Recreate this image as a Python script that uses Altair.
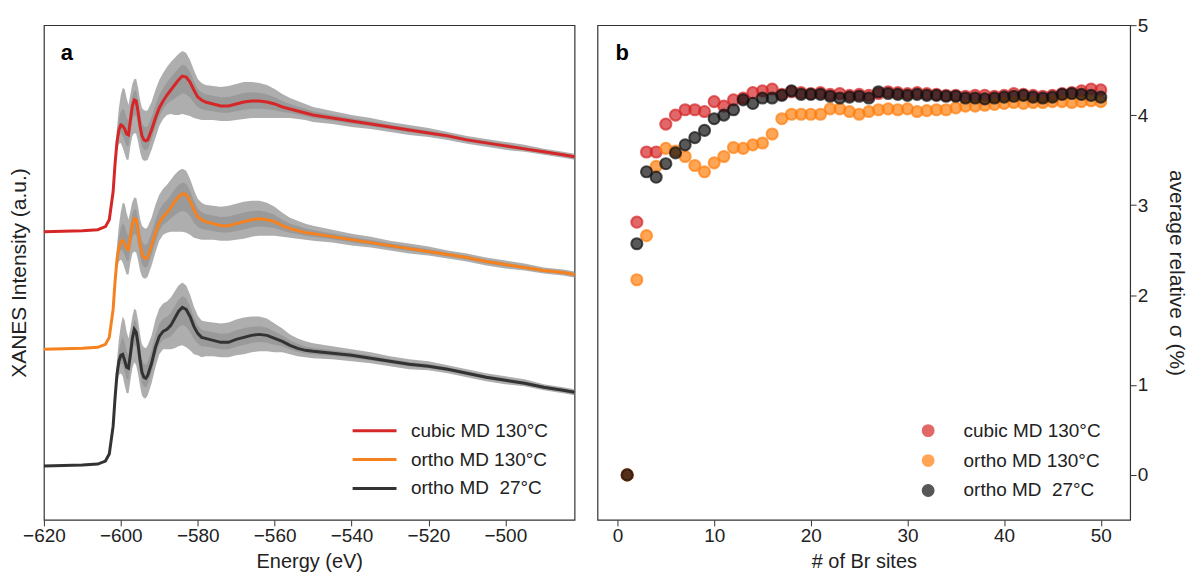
import altair as alt
import pandas as pd

# ---------------- panel a : XANES spectra ----------------
energy = [-620, -610, -606, -604, -603, -602, -601.5, -601, -600.5, -600,
          -599.5, -599, -598.5, -598, -597.5, -597, -596.5, -596, -595.5, -595,
          -594.5, -594, -593.5, -593, -592, -591, -590, -589, -588, -587,
          -586, -585, -584, -583, -582, -581, -580, -579, -578,
          -576, -574, -572, -570, -568, -566, -564, -562, -560, -558, -556,
          -554, -552, -550, -545, -540, -535, -530, -525, -520, -515, -510, -505, -500, -495, -490, -485, -482]

# mean spectra, intensity above pre-edge (a.u. x 100)
cubic_130 = [0, 1, 2, 5, 12, 40, 68, 90, 102, 107,
             106, 103, 98, 97, 112, 126, 132, 131, 120, 106,
             96, 92, 91, 92, 102, 114, 124, 131, 137, 142,
             147, 152, 156, 155, 150, 142, 135, 132, 130,
             128, 126, 126, 128, 130, 131, 131, 130, 128, 125, 123,
             121, 119, 117, 114, 111, 108, 105, 102, 99, 96, 92, 89, 86, 83, 80, 77, 75]
ortho_130 = [0, 1, 2, 5, 12, 40, 68, 90, 102, 108,
             109, 106, 101, 100, 113, 126, 131, 130, 119, 105,
             96, 92, 91, 93, 104, 117, 127, 133, 137, 142,
             148, 153, 156, 155, 149, 140, 133, 130, 128,
             126, 124, 124, 126, 128, 130, 131, 130, 128, 124, 121,
             119, 117, 116, 113, 110, 107, 104, 101, 98, 95, 92, 88, 85, 82, 79, 77, 75]
ortho_27 = [0, 1, 2, 5, 12, 40, 68, 92, 105, 111,
            112, 106, 99, 98, 112, 128, 137, 134, 122, 106,
            94, 89, 88, 91, 103, 119, 130, 135, 137, 141,
            148, 155, 159, 157, 150, 140, 133, 129, 128,
            126, 124, 124, 127, 129, 131, 132, 131, 128, 125, 121,
            118, 116, 115, 113, 111, 108, 105, 102, 100, 97, 93, 89, 86, 83, 79, 76, 74]

# spread of the individual MD snapshot spectra above / below the mean (a.u. x 100)
spread_up = [0, 0, 0, 0, 1, 4, 8, 14, 22, 30,
             38, 40, 36, 30, 26, 22, 21, 22, 24, 26,
             28, 30, 30, 30, 28, 28, 28, 28, 28, 28,
             27, 26, 25, 24, 22, 20, 18, 17, 17,
             18, 19, 20, 20, 20, 19, 18, 17, 15, 13, 11,
             10, 9, 8, 7, 6, 6, 5, 5, 5, 4, 4, 4, 4, 4, 3, 3, 3]
spread_lo = [0, 0, 0, 0, 1, 4, 6, 10, 14, 18,
             22, 25, 26, 25, 26, 30, 33, 33, 30, 26,
             23, 21, 20, 20, 20, 20, 18, 18, 20, 24,
             30, 35, 38, 38, 34, 28, 22, 20, 18,
             16, 15, 15, 16, 17, 17, 17, 16, 14, 11, 9,
             8, 7, 7, 6, 6, 5, 5, 5, 4, 4, 4, 4, 4, 3, 3, 3, 3]

series = ["cubic MD 130°C", "ortho MD 130°C", "ortho MD\u00a0 27°C"]
spectra = [cubic_130, ortho_130, ortho_27]
offsets = [2.89, 1.71, 0.54]
line_colors = ["#d62728", "#f5821f", "#333333"]

rows = []
for name, vals, off in zip(series, spectra, offsets):
    for e, v, su, sl in zip(energy, vals, spread_up, spread_lo):
        m = off + v / 100
        rows.append({"E": e, "spectrum": name, "I": m,
                     "hi": m + su / 100, "lo": m - sl / 100,
                     "hi2": m + su / 220, "lo2": m - sl / 220})
spec = pd.DataFrame(rows)

FONT = "Liberation Sans"
H = 496

xa = alt.X("E:Q", scale=alt.Scale(domain=[-620, -482], nice=False, zero=False),
           axis=alt.Axis(values=list(range(-620, -499, 20)), title="Energy (eV)",
                         labelFlush=False, labelOverlap=False, titlePadding=6,
                         titleFontSize=20))
yscale = alt.Scale(domain=[0, 4.96], nice=False, zero=False)
yaxis = alt.Axis(title="XANES Intensity (a.u.)", labels=False, ticks=False,
                 domain=False, grid=False, titlePadding=14)

base_a = alt.Chart(spec)
band_out = base_a.mark_area(color="#939393", opacity=0.75).encode(
    x=xa, y=alt.Y("hi:Q", scale=yscale, axis=yaxis), y2="lo:Q", detail="spectrum:N")
band_in = base_a.mark_area(color="#828282", opacity=0.45).encode(
    x=xa, y=alt.Y("hi2:Q", scale=yscale, axis=yaxis), y2="lo2:Q", detail="spectrum:N")
lines = base_a.mark_line(strokeWidth=3).encode(
    x=xa, y=alt.Y("I:Q", scale=yscale, axis=yaxis),
    color=alt.Color("spectrum:N", scale=alt.Scale(domain=series, range=line_colors),
                    legend=alt.Legend(title=None, orient="none", legendX=319, legendY=394,
                                      symbolType="M-2,0H2", symbolSize=484,
                                      symbolStrokeWidth=3, labelFontSize=19,
                                      labelOffset=24, rowPadding=6, padding=0)))
lab_a = alt.Chart(pd.DataFrame({"t": ["a"]})).mark_text(
    fontWeight="bold", fontSize=22, align="left", baseline="middle", font=FONT, color="#000"
).encode(text="t:N", x=alt.value(17), y=alt.value(28))

left = alt.layer(band_out, band_in, lines, lab_a).properties(width=532, height=H)

# ---------------- panel b : average relative sigma ----------------
n_sites = list(range(1, 51))
sig_cubic_130 = [0.00, 2.81, 3.59, 3.59, 3.90, 4.00, 4.06, 4.06, 4.04, 4.15,
                 4.10, 4.17, 4.19, 4.25, 4.27, 4.29, 4.23, 4.26, 4.25, 4.24,
                 4.25, 4.23, 4.24, 4.22, 4.23, 4.22, 4.24, 4.26, 4.25, 4.24,
                 4.25, 4.24, 4.23, 4.22, 4.22, 4.21, 4.22, 4.22, 4.21, 4.22,
                 4.24, 4.23, 4.22, 4.21, 4.22, 4.24, 4.25, 4.27, 4.29, 4.28]
sig_ortho_130 = [0.00, 2.17, 2.66, 3.43, 3.63, 3.60, 3.54, 3.44, 3.37, 3.47,
                 3.54, 3.64, 3.63, 3.67, 3.69, 3.79, 3.96, 4.01, 4.01, 4.01,
                 4.01, 4.07, 4.07, 4.04, 4.01, 4.04, 4.06, 4.07, 4.06, 4.07,
                 4.04, 4.05, 4.06, 4.06, 4.08, 4.10, 4.10, 4.11, 4.12, 4.13,
                 4.14, 4.13, 4.14, 4.14, 4.15, 4.15, 4.14, 4.15, 4.16, 4.15]
sig_ortho_27 = [0.00, 2.57, 3.37, 3.31, 3.46, 3.58, 3.67, 3.75, 3.83, 3.96,
                4.00, 4.06, 4.17, 4.13, 4.19, 4.19, 4.22, 4.27, 4.23, 4.23,
                4.23, 4.21, 4.19, 4.20, 4.21, 4.19, 4.26, 4.24, 4.23, 4.22,
                4.23, 4.22, 4.22, 4.21, 4.21, 4.19, 4.19, 4.18, 4.19, 4.20,
                4.21, 4.22, 4.20, 4.19, 4.20, 4.23, 4.24, 4.23, 4.22, 4.20]
point_colors = ["#d62728", "#ff7f0e", "#111111"]

prow = []
for name, vals in zip(series, [sig_cubic_130, sig_ortho_130, sig_ortho_27]):
    for n, s in zip(n_sites, vals):
        prow.append({"n": n, "s": s, "run": name})
pdf = pd.DataFrame(prow)

pts = alt.Chart(pdf).mark_circle(size=125, opacity=1, fillOpacity=0.7, strokeOpacity=0.7,
                                 strokeWidth=2).encode(
    x=alt.X("n:Q", scale=alt.Scale(domain=[-2.07, 53.04], nice=False, zero=False),
            axis=alt.Axis(values=[0, 10, 20, 30, 40, 50], title="# of Br sites",
                          labelFlush=False, titlePadding=6, titleFontSize=20)),
    y=alt.Y("s:Q", scale=alt.Scale(domain=[-0.5, 5], nice=False, zero=False),
            axis=alt.Axis(orient="right", values=[0, 1, 2, 3, 4, 5],
                          title="average relative σ (%)", titlePadding=18, grid=False)),
    color=alt.Color("run:N", scale=alt.Scale(domain=series, range=point_colors),
                    legend=alt.Legend(title=None, orient="none", legendX=322, legendY=397,
                                      symbolType="circle", symbolSize=130,
                                      symbolOpacity=0.7, labelFontSize=19,
                                      labelOffset=26, rowPadding=10, padding=0)),
    stroke=alt.Stroke("run:N", scale=alt.Scale(domain=series, range=point_colors),
                      legend=None),
)
lab_b = alt.Chart(pd.DataFrame({"t": ["b"]})).mark_text(
    fontWeight="bold", fontSize=22, align="left", baseline="middle", font=FONT, color="#000"
).encode(text="t:N", x=alt.value(18), y=alt.value(28))

right = alt.layer(pts, lab_b).properties(width=534, height=H)

chart = alt.hconcat(left, right, spacing=15).resolve_scale(
    color="independent", stroke="independent"
).resolve_legend(color="independent", stroke="independent").properties(
    padding={"left": 0, "top": 6.5, "right": 0, "bottom": 0}
).configure_view(stroke="#333333", strokeWidth=1.2).configure_axis(
    labelFont=FONT, titleFont=FONT, labelFontSize=19, titleFontSize=21,
    labelColor="#222222", titleColor="#222222", tickColor="#333333",
    tickSize=6, domain=False, grid=False, titleFontWeight="normal", labelPadding=1
).configure_legend(labelFont=FONT, labelColor="#222222").configure_text(font=FONT)

chart.save("out.html", embed_options={"renderer": "svg", "actions": False})
